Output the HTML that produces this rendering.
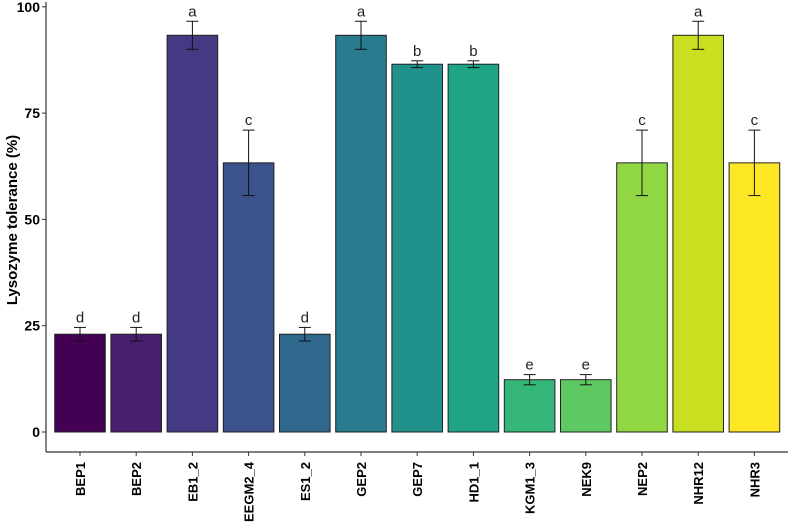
<!DOCTYPE html>
<html><head><meta charset="utf-8"><style>
body{margin:0;background:#fff}
svg{display:block;font-family:"Liberation Sans",Arial,sans-serif}
</style></head><body>
<svg id="chart" width="789" height="522"></svg>
<script>
const categories=["BEP1","BEP2","EB1_2","EEGM2_4","ES1_2","GEP2","GEP7","HD1_1","KGM1_3","NEK9","NEP2","NHR12","NHR3"];
const values=[23,23,93.3,63.3,23,93.3,86.5,86.5,12.3,12.3,63.3,93.3,63.3];
const errors=[1.6,1.6,3.3,7.7,1.6,3.3,0.8,0.8,1.2,1.2,7.7,3.3,7.7];
const letters=["d","d","a","c","d","a","b","b","e","e","c","a","c"];
const yTicks=[0,25,50,75,100];
const colors=["#440154","#481f70","#443983","#3b528b","#31688e","#287c8e","#21918c","#20a486","#35b779","#5ec962","#90d743","#c8e020","#fde725"];
const NS="http://www.w3.org/2000/svg";
const svg=document.getElementById('chart');
const y=v=>432-v*4.252;
const x=i=>80+i*56.2;
const bw=50.6;
function mk(t,a,p){const e=document.createElementNS(NS,t);for(const k in a)e.setAttribute(k,a[k]);(p||svg).appendChild(e);return e;}
const ax=mk('line',{x1:46,y1:2,x2:46,y2:452,stroke:'#333','stroke-width':1.2});


const bx=mk('line',{x1:46,y1:452,x2:788,y2:452,stroke:'#333','stroke-width':1.2});


yTicks.forEach(t=>{
  mk('line',{x1:42,y1:y(t),x2:46,y2:y(t),stroke:'#333'});
  const tx=mk('text',{x:40,y:y(t)+5,'text-anchor':'end','font-size':14,'font-weight':'bold',fill:'#000'});
  tx.textContent=t;
  
  
});
const yt=mk('text',{transform:'translate(17,220) rotate(-90)','text-anchor':'middle','font-size':15,'font-weight':'bold'});
yt.textContent='Lysozyme tolerance (%)';


categories.forEach((c,i)=>{
  const cx=x(i),v=values[i],e=errors[i];
  const r=mk('rect',{x:cx-bw/2,y:y(v),width:bw,height:y(0)-y(v),fill:colors[i],stroke:'#222','stroke-width':1});
  
  
  const g=mk('g',{stroke:'#111','stroke-width':1});
  
  
  mk('line',{x1:cx,x2:cx,y1:y(v+e),y2:y(v-e)},g);
  mk('line',{x1:cx-6,x2:cx+6,y1:y(v+e),y2:y(v+e)},g);
  mk('line',{x1:cx-6,x2:cx+6,y1:y(v-e),y2:y(v-e)},g);
  const l=mk('text',{x:cx,y:y(v+e)-5,'text-anchor':'middle','font-size':15,fill:'#222'});
  l.textContent=letters[i];
  
  
  mk('line',{x1:cx,x2:cx,y1:452,y2:456,stroke:'#333'});
  const xl=mk('text',{transform:`translate(${cx+5},462) rotate(-90)`,'text-anchor':'end','font-size':13,'font-weight':'bold'});
  xl.textContent=c;
  
  
});
</script>
</body></html>
